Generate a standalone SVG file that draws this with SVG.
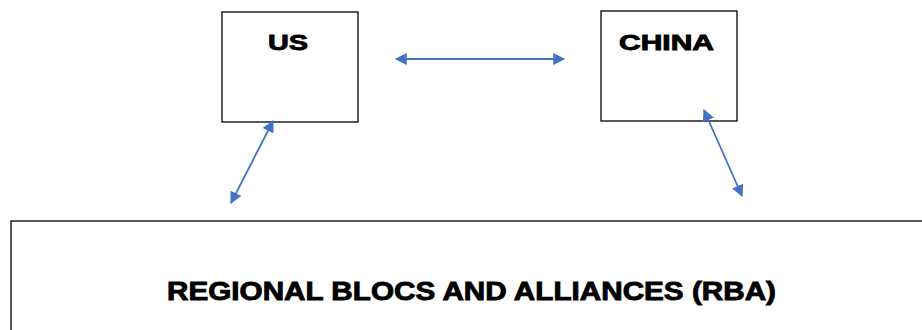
<svg xmlns="http://www.w3.org/2000/svg" width="922" height="330" viewBox="0 0 922 330">
<style>
.box{fill:#fff;stroke:#000;stroke-width:1.3}
.lbl{font-family:"Liberation Sans",Arial,sans-serif;font-weight:bold;fill:#000;stroke:#000;stroke-width:0.9}
.con{stroke:#4472C4;stroke-width:1.8;fill:none;marker-start:url(#a);marker-end:url(#a)}
</style>
<defs>
<marker id="a" viewBox="0 0 10 10" refX="9" refY="5" markerWidth="14" markerHeight="12" markerUnits="userSpaceOnUse" orient="auto-start-reverse">
<path d="M0,0 L10,5 L0,10 z" fill="#4472C4"/>
</marker>
</defs>
<rect width="922" height="330" fill="#fff"/>
<g id="us">
<rect class="box" x="222" y="12" width="136" height="110"/>
<text class="lbl" x="288" y="50" font-size="22" text-anchor="middle" textLength="40" lengthAdjust="spacingAndGlyphs">US</text>
</g>
<g id="china">
<rect class="box" x="601" y="11" width="136" height="110"/>
<text class="lbl" x="666.5" y="50" font-size="22" text-anchor="middle" textLength="95" lengthAdjust="spacingAndGlyphs">CHINA</text>
</g>
<g id="rba">
<rect class="box" x="11" y="221" width="930" height="130"/>
<text class="lbl" x="471.5" y="300" font-size="26" text-anchor="middle" textLength="609" lengthAdjust="spacingAndGlyphs">REGIONAL BLOCS AND ALLIANCES (RBA)</text>
</g>
<g id="connectors">
<line class="con" x1="273" y1="121" x2="231" y2="203"/>
<line class="con" x1="704" y1="110" x2="742" y2="196"/>
<line class="con" x1="396" y1="59" x2="564" y2="59"/>
</g>
</svg>
